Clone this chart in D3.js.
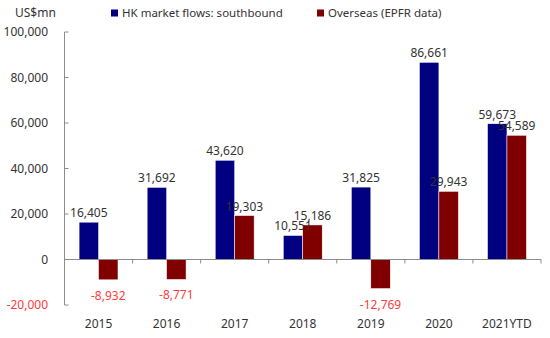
<!DOCTYPE html>
<html>
<head>
<meta charset="utf-8">
<script src="https://cdn.jsdelivr.net/npm/d3@7"></script>
<style>
  body { margin: 0; background: #fff; }
  text { font-family: "Noto Sans", "Open Sans", sans-serif; }
</style>
</head>
<body>
<div id="flowsChart"></div>
<script>
// flows by year, US$mn
var years = ["2015", "2016", "2017", "2018", "2019", "2020", "2021YTD"];
var southbound = [16405, 31692, 43620, 10551, 31825, 86661, 59673];
var overseas = [-8932, -8771, 19303, 15186, -12769, 29943, 54589];
var seriesNames = ["HK market flows: southbound", "Overseas (EPFR data)"];
var seriesColors = ["#000080", "#800000"];
var yTicks = [-20000, 0, 20000, 40000, 60000, 80000, 100000];

var width = 550, height = 338;
var margin = {top: 32, right: 9, bottom: 33, left: 64.5};

var svg = d3.select("#flowsChart")
            .append("svg")
            .attr("width", width)
            .attr("height", height);

var y = d3.scaleLinear()
          .domain([-20000, 100000])
          .range([height - margin.bottom, margin.top]);

var x0 = d3.scaleBand()
           .domain(years)
           .range([margin.left, width - margin.right]);

// two bars per year sit in the middle of each band
var x1 = d3.scaleBand()
           .domain([0, 1])
           .range([0, x0.bandwidth()])
           .paddingOuter(0.75)
           .paddingInner(0);

var rows = years.map(function(yr, i) {
  return {year: yr, values: [southbound[i], overseas[i]]};
});

// plain hyphen for negatives instead of d3's unicode minus
var fmt = function(v) { return d3.format(",")(v).replace("\u2212", "-"); };
var axisColor = "#8c8c8c";
var textColor = "#333";
var negColor = "#ff3b3b";

// y axis line + inward ticks
svg.append("line")
   .attr("x1", margin.left).attr("x2", margin.left)
   .attr("y1", y(100000)).attr("y2", y(-20000))
   .attr("stroke", axisColor).attr("stroke-width", 1);

svg.selectAll("ytick")
   .data(yTicks)
   .enter()
   .append("line")
   .attr("x1", margin.left).attr("x2", margin.left + 4)
   .attr("y1", function(d) { return y(d); })
   .attr("y2", function(d) { return y(d); })
   .attr("stroke", axisColor);

svg.selectAll("ylabel")
   .data(yTicks)
   .enter()
   .append("text")
   .attr("x", 48)
   .attr("y", function(d) { return y(d); })
   .attr("dy", "0.35em")
   .attr("text-anchor", "end")
   .style("font-size", "12px")
   .style("fill", function(d) { return d < 0 ? negColor : textColor; })
   .text(function(d) { return fmt(d); });

// bars
var groups = svg.selectAll("yearGroup")
                .data(rows)
                .enter()
                .append("g")
                .attr("transform", function(d) { return "translate(" + x0(d.year) + ",0)"; });

groups.selectAll("rect")
      .data(function(d) { return d.values.map(function(v, k) { return {k: k, v: v}; }); })
      .enter()
      .append("rect")
      .attr("x", function(d) { return x1(d.k); })
      .attr("width", x1.bandwidth())
      .attr("y", function(d) { return y(Math.max(0, d.v)); })
      .attr("height", function(d) { return Math.abs(y(d.v) - y(0)); })
      .attr("fill", function(d) { return seriesColors[d.k]; })
      .attr("stroke", "#fff")
      .attr("stroke-width", 0.5);

// zero line with category ticks
svg.append("line")
   .attr("x1", margin.left).attr("x2", width - margin.right)
   .attr("y1", y(0)).attr("y2", y(0))
   .attr("stroke", axisColor);

svg.selectAll("xtick")
   .data(years)
   .enter()
   .append("line")
   .attr("x1", function(d) { return x0(d) + x0.bandwidth(); })
   .attr("x2", function(d) { return x0(d) + x0.bandwidth(); })
   .attr("y1", y(0)).attr("y2", y(0) + 4)
   .attr("stroke", axisColor);

// value labels
groups.selectAll("valueLabel")
      .data(function(d) { return d.values.map(function(v, k) { return {k: k, v: v}; }); })
      .enter()
      .append("text")
      .attr("x", function(d) { return x1(d.k) + x1.bandwidth() / 2; })
      .attr("y", function(d) { return d.v >= 0 ? y(d.v) - 5 : y(d.v) + 20; })
      .attr("text-anchor", "middle")
      .style("font-size", "12px")
      .style("fill", function(d) { return d.v < 0 ? negColor : textColor; })
      .text(function(d) { return fmt(d.v); });

// category labels
svg.selectAll("xlabel")
   .data(years)
   .enter()
   .append("text")
   .attr("x", function(d) { return x0(d) + x0.bandwidth() / 2; })
   .attr("y", 328)
   .attr("text-anchor", "middle")
   .style("font-size", "12px")
   .style("fill", textColor)
   .text(function(d) { return d; });

// unit + legend
svg.append("text")
   .attr("x", 15).attr("y", 17)
   .style("font-size", "12px")
   .style("fill", textColor)
   .text("US$mn");

var legendX = [111, 317];
svg.selectAll("legendBox")
   .data(seriesNames)
   .enter()
   .append("rect")
   .attr("x", function(d, i) { return legendX[i]; })
   .attr("y", 9.5)
   .attr("width", 7).attr("height", 7)
   .attr("fill", function(d, i) { return seriesColors[i]; });

svg.selectAll("legendText")
   .data(seriesNames)
   .enter()
   .append("text")
   .attr("x", function(d, i) { return legendX[i] + 11; })
   .attr("y", 17)
   .style("font-size", "11.5px")
   .style("fill", textColor)
   .text(function(d) { return d; });
</script>
</body>
</html>
